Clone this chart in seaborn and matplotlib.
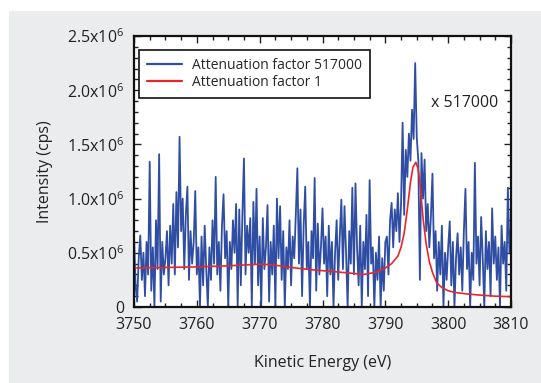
import numpy as np
import pandas as pd
import seaborn as sns
import matplotlib.pyplot as plt
from matplotlib.patches import Rectangle
from matplotlib.ticker import MultipleLocator, FuncFormatter

# attenuation factor 517000 spectrum, 0.25 eV steps from 3750 to 3810 (units of 1e6 cps)
energy = np.linspace(3750, 3810, 241)
att_517000 = [
    0.66, 0.20, 0.05, 0.45, 0.66, 0.25, 0.50, 0.10, 0.60, 0.30,
    1.34, 0.15, 0.55, 0.00, 0.80, 0.35, 1.41, 0.05, 0.60, 0.30,
    0.45, 0.70, 0.20, 0.75, 0.40, 0.95, 0.30, 1.06, 0.55, 1.57,
    0.70, 1.00, 0.35, 0.85, 1.11, 0.25, 0.70, 0.40, 0.60, 1.07,
    0.30, 0.55, 0.00, 0.65, 0.20, 0.75, 0.35, 0.00, 0.55, 0.25,
    0.80, 0.40, 1.20, 0.30, 0.60, 0.15, 0.75, 1.04, 0.45, 0.70,
    0.00, 0.60, 0.35, 0.80, 0.50, 0.95, 0.00, 0.90, 0.20, 0.85,
    1.37, 0.30, 0.75, 0.50, 0.82, 0.00, 0.97, 0.40, 1.09, 0.20,
    0.65, 0.00, 0.82, 0.35, 0.55, 0.94, 0.05, 0.60, 0.30, 0.75,
    0.00, 1.00, 0.45, 0.93, 0.25, 0.70, 0.00, 0.55, 0.35, 0.80,
    0.20, 0.65, 0.45, 0.85, 1.28, 0.40, 0.90, 0.10, 0.75, 1.11,
    0.35, 0.60, 0.00, 0.70, 0.45, 1.19, 0.15, 0.77, 0.30, 0.55,
    0.91, 0.40, 0.65, 0.10, 0.75, 0.30, 0.60, 0.00, 0.50, 0.80,
    0.25, 0.65, 0.99, 0.35, 0.93, 0.50, 0.00, 0.70, 0.40, 1.10,
    0.30, 1.14, 0.55, 0.20, 0.75, 0.00, 0.60, 0.35, 0.85, 0.10,
    1.17, 0.40, 0.55, 0.00, 0.50, 0.25, 0.65, 0.00, 0.45, 0.15,
    0.60, 0.65, 0.30, 0.80, 0.96, 0.55, 0.90, 0.70, 1.05, 0.60,
    0.95, 1.70, 0.85, 1.45, 1.20, 1.60, 1.35, 1.82, 1.55, 2.25,
    1.57, 1.35, 0.25, 1.42, 1.00, 1.36, 0.70, 0.95, 0.55, 0.83,
    1.23, 0.45, 0.70, 0.15, 0.60, 0.30, 0.75, 0.00, 0.50, 0.25,
    0.55, 0.79, 0.20, 0.60, 0.00, 0.45, 0.68, 0.30, 0.55, 0.15,
    0.70, 1.09, 0.35, 0.60, 0.00, 0.50, 0.25, 1.33, 0.40, 0.65,
    0.20, 0.83, 0.45, 0.00, 0.70, 0.35, 0.60, 0.10, 0.91, 0.40,
    0.65, 0.25, 0.55, 0.00, 0.75, 0.40, 0.60, 0.15, 1.10, 0.50,
    0.74,
]

# attenuation factor 1 spectrum (scaled), units of 1e6 cps
red_energy = [3750, 3755, 3760, 3765, 3770, 3772, 3775, 3778, 3781, 3784,
              3786.5, 3788.5, 3790, 3791, 3792, 3792.5, 3793, 3793.5, 3794,
              3794.4, 3794.85, 3795.2, 3795.5, 3796, 3796.5, 3797, 3797.5,
              3798.2, 3799, 3800, 3801, 3803, 3805, 3807.5, 3810]
att_1 = [0.36, 0.365, 0.37, 0.38, 0.395, 0.39, 0.365, 0.345, 0.33, 0.315,
         0.30, 0.32, 0.36, 0.40, 0.47, 0.55, 0.68, 0.90, 1.15,
         1.29, 1.335, 1.28, 1.15, 0.82, 0.58, 0.42, 0.32,
         0.22, 0.18, 0.15, 0.135, 0.12, 0.11, 0.10, 0.095]

blue_df = pd.DataFrame({"energy": energy, "intensity": np.array(att_517000) * 1e6})
red_df = pd.DataFrame({"energy": red_energy, "intensity": np.array(att_1) * 1e6})

sns.set_style("ticks")
plt.rcParams['font.family'] = ['Open Sans', 'DejaVu Sans']
plt.rcParams['mathtext.default'] = 'regular'

fig = plt.figure(figsize=(5.41, 3.83), dpi=100, facecolor='white')
# grey panel behind the plot
fig.patches.append(Rectangle((9 / 541, 0), 1, 372 / 383, transform=fig.transFigure,
                             facecolor='#ebeced', edgecolor='none', zorder=-10))
ax = fig.add_axes([134 / 541, 76 / 383, 377 / 541, 271 / 383])
ax.set_facecolor('white')

sns.lineplot(data=blue_df, x="energy", y="intensity", ax=ax, color='#2f4ea3',
             linewidth=1.3, estimator=None, label='Attenuation factor 517000')
sns.lineplot(data=red_df, x="energy", y="intensity", ax=ax, color='#e8262a',
             linewidth=1.2, estimator=None, label='Attenuation factor 1')

ax.set_xlim(3750, 3810)
ax.set_ylim(0, 2.5e6)
ax.xaxis.set_major_locator(MultipleLocator(10))
ax.xaxis.set_minor_locator(MultipleLocator(2.5))
ax.yaxis.set_major_locator(MultipleLocator(0.5e6))
ax.yaxis.set_minor_locator(MultipleLocator(0.1e6))
ax.yaxis.set_major_formatter(FuncFormatter(
    lambda v, p: '0' if v == 0 else f'{v / 1e6:.1f}x10$^6$'))

ax.tick_params(which='both', direction='in', top=True, right=True, colors='#222222',
               labelsize=11.5, width=1)
ax.tick_params(which='major', length=5, pad=7)
ax.tick_params(which='minor', length=3)
for s in ax.spines.values():
    s.set_linewidth(1.6)
    s.set_color('#111111')

ax.set_xlabel('Kinetic Energy (eV)', fontsize=11.5, labelpad=16, color='#222222')
ax.set_ylabel('Intensity (cps)', fontsize=11.5, labelpad=10, color='#222222')

ax.text(3797.3, 1.88e6, 'x 517000', fontsize=11.5, va='center', ha='left', color='#222222')

leg = ax.legend(loc='upper left', bbox_to_anchor=(0.013, 0.95), fontsize=10,
                fancybox=False, framealpha=1, edgecolor='#111111',
                handlelength=2.5, handletextpad=0.7, borderpad=0.6, labelspacing=0.15,
                borderaxespad=0)
leg.get_frame().set_linewidth(1.2)
for line in leg.get_lines():
    line.set_linewidth(1.6)

plt.savefig('out.png', dpi=100, facecolor=fig.get_facecolor())
